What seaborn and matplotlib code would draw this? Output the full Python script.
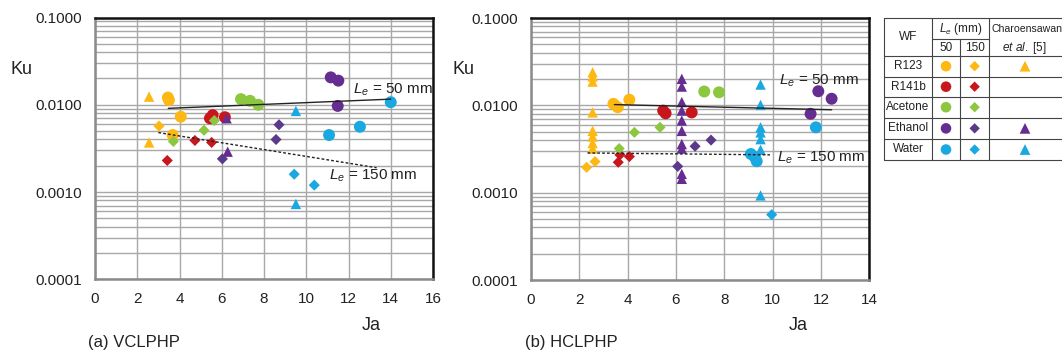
import numpy as np
import pandas as pd
import matplotlib
matplotlib.use("Agg")
import matplotlib.pyplot as plt
import seaborn as sns
from matplotlib.ticker import FixedLocator, FixedFormatter, NullFormatter

sns.set_theme(style="white")
plt.rcParams['font.family'] = ['Liberation Sans', 'DejaVu Sans']
plt.rcParams['mathtext.fontset'] = 'custom'
plt.rcParams['mathtext.rm'] = 'Liberation Sans'
plt.rcParams['mathtext.it'] = 'Liberation Sans:italic'

# ---------------- data: (a) VCLPHP ----------------
a_R123_50_x = [3.45, 3.50, 4.06, 3.68]
a_R123_50_y = [0.0121, 0.0113, 0.0073, 0.0045]
a_R123_150_x = [3.03]
a_R123_150_y = [0.0057]
a_R123_ref_x = [2.56, 2.56]
a_R123_ref_y = [0.0124, 0.0037]
a_R141b_50_x = [5.44, 5.57, 6.15]
a_R141b_50_y = [0.0070, 0.0076, 0.0072]
a_R141b_150_x = [3.42, 4.73, 5.52]
a_R141b_150_y = [0.0023, 0.0039, 0.0037]
a_Acetone_50_x = [6.91, 7.34, 7.73]
a_Acetone_50_y = [0.0116, 0.0111, 0.0100]
a_Acetone_150_x = [3.71, 5.16, 5.65]
a_Acetone_150_y = [0.0038, 0.0051, 0.0066]
a_Ethanol_50_x = [11.16, 11.52, 11.49]
a_Ethanol_50_y = [0.0206, 0.0189, 0.0097]
a_Ethanol_150_x = [6.03, 8.71, 8.57]
a_Ethanol_150_y = [0.0024, 0.0059, 0.0040]
a_Ethanol_ref_x = [6.23, 6.28]
a_Ethanol_ref_y = [0.0070, 0.0029]
a_Water_50_x = [14.0, 11.08, 12.54]
a_Water_50_y = [0.0107, 0.0045, 0.0056]
a_Water_150_x = [9.43, 10.38]
a_Water_150_y = [0.0016, 0.0012]
a_Water_ref_x = [9.51, 9.51]
a_Water_ref_y = [0.0085, 0.00073]
a_fit50_x = [3.47, 14.0]
a_fit50_y = [0.0091, 0.0116]
a_fit150_x = [3.0, 13.33]
a_fit150_y = [0.0048, 0.0019]

# ---------------- data: (b) HCLPHP ----------------
b_R123_50_x = [3.41, 3.59, 4.07]
b_R123_50_y = [0.0104, 0.0095, 0.0116]
b_R123_150_x = [2.30, 2.65]
b_R123_150_y = [0.00195, 0.00227]
b_R123_ref_x = [2.55, 2.55, 2.55, 2.55, 2.55, 2.55, 2.55, 2.55]
b_R123_ref_y = [0.0239, 0.0214, 0.0187, 0.0083, 0.0051, 0.0044, 0.0037, 0.0032]
b_R141b_50_x = [5.47, 5.57, 6.65]
b_R141b_50_y = [0.0087, 0.0081, 0.0083]
b_R141b_150_x = [3.61, 3.68, 4.07]
b_R141b_150_y = [0.00223, 0.00271, 0.00259]
b_Acetone_50_x = [7.17, 7.78]
b_Acetone_50_y = [0.0144, 0.0141]
b_Acetone_150_x = [3.65, 4.28, 5.34]
b_Acetone_150_y = [0.0032, 0.0049, 0.0056]
b_Ethanol_50_x = [11.89, 12.44, 11.57]
b_Ethanol_50_y = [0.0145, 0.0119, 0.0080]
b_Ethanol_150_x = [6.07, 6.79, 7.45]
b_Ethanol_150_y = [0.0020, 0.0034, 0.0040]
b_Ethanol_ref_x = [6.24] * 10
b_Ethanol_ref_y = [0.0201, 0.0164, 0.0109, 0.0087, 0.0067, 0.0051, 0.0036, 0.0032, 0.00164, 0.00144]
b_Water_50_x = [9.10, 9.27, 9.34, 11.79]
b_Water_50_y = [0.00277, 0.00254, 0.00229, 0.0056]
b_Water_150_x = [9.96]
b_Water_150_y = [0.00056]
b_Water_ref_x = [9.50] * 7
b_Water_ref_y = [0.0173, 0.0101, 0.0056, 0.0049, 0.0041, 0.0031, 0.00093]
b_fit50_x = [3.45, 12.44]
b_fit50_y = [0.0102, 0.0089]
b_fit150_x = [2.34, 9.89]
b_fit150_y = [0.00285, 0.00271]

fluids = ["R123", "R141b", "Acetone", "Ethanol", "Water"]
kinds = ["50", "150", "ref"]
yticks = [0.0001, 0.001, 0.01, 0.1]
ytick_labels = ["0.0001", "0.0010", "0.0100", "0.1000"]

colors = {
    "R123": "#FDB813", "R141b": "#C8161D", "Acetone": "#8DC63F",
    "Ethanol": "#662D91", "Water": "#1AA8E0",
}
diamond_colors = dict(colors, Ethanol="#5B3A8A")
marker_of = {"50": "o", "150": "D", "ref": "^"}
size_of = {"50": 74, "150": 32, "ref": 56}

def collect(prefix):
    rows = []
    g = globals()
    for f in fluids:
        for k in kinds:
            xn = f"{prefix}_{f}_{k}_x"
            if xn in g:
                for xv, yv in zip(g[xn], g[f"{prefix}_{f}_{k}_y"]):
                    rows.append(dict(fluid=f, kind=k, Ja=xv, Ku=yv))
    return pd.DataFrame(rows)

W, H = 1062, 354
fig = plt.figure(figsize=(W / 100, H / 100), dpi=100)
axA = fig.add_axes([95 / W, 1 - 279.3 / H, 338 / W, 261.8 / H])
axB = fig.add_axes([531 / W, 1 - 280 / H, 338.3 / W, 262 / H])

grid_c = "#A8A8A8"

def style(ax, xmax):
    ax.set_yscale("log")
    ax.set_ylim(1e-4, 1e-1)
    ax.set_xlim(0, xmax)
    ax.yaxis.set_major_locator(FixedLocator(yticks))
    ax.yaxis.set_major_formatter(FixedFormatter(ytick_labels))
    minors = [m * 10.0 ** e for e in (-4, -3, -2) for m in range(2, 10)]
    ax.yaxis.set_minor_locator(FixedLocator(minors))
    ax.yaxis.set_minor_formatter(NullFormatter())
    ax.set_xticks(list(range(0, xmax + 1, 2)))
    ax.set_xticks(list(range(1, xmax, 2)), minor=True)
    ax.grid(True, which="both", axis="y", color=grid_c, lw=1.0, zorder=0)
    ax.grid(True, which="major", axis="x", color=grid_c, lw=1.0, zorder=0)
    ax.set_axisbelow(True)
    ax.tick_params(axis="y", which="both", length=0, pad=9, labelsize=11, labelcolor="#222222")
    ax.tick_params(axis="x", which="major", length=0, pad=9, labelsize=11, labelcolor="#222222")
    ax.tick_params(axis="x", which="minor", direction="in", length=3, width=1, color="#888888")
    for s in ("left", "bottom"):
        ax.spines[s].set_color("#8A8A8A")
        ax.spines[s].set_linewidth(1.8)
    for s in ("top", "right"):
        ax.spines[s].set_color("#111111")
        ax.spines[s].set_linewidth(1.8)
    ax.set_xlabel("")
    ax.set_ylabel("")

def draw(ax, prefix, xmax):
    df = collect(prefix)
    for f in fluids:
        for k in kinds:
            sub = df[(df.fluid == f) & (df.kind == k)]
            if sub.empty:
                continue
            c = diamond_colors[f] if k == "150" else colors[f]
            sns.scatterplot(data=sub, x="Ja", y="Ku", ax=ax, color=c,
                            marker=marker_of[k], s=size_of[k], edgecolor="none",
                            linewidth=0, legend=False, zorder=3)
    g = globals()
    sns.lineplot(x=g[f"{prefix}_fit50_x"], y=g[f"{prefix}_fit50_y"], ax=ax,
                 color="#222222", lw=1.0, zorder=4)
    ax.plot(g[f"{prefix}_fit150_x"], g[f"{prefix}_fit150_y"], color="#222222",
            lw=1.0, ls=(0, (2.0, 1.5)), zorder=4)
    style(ax, xmax)

draw(axA, "a", 16)
draw(axB, "b", 14)

lab = dict(fontsize=11, color="#222222", va="center", ha="left", zorder=5)
axA.text(12.2, 0.0148, r"$L_e$ = 50 mm", **lab)
axA.text(11.1, 0.00153, r"$L_e$ = 150 mm", **lab)
axB.text(10.26, 0.0192, r"$L_e$ = 50 mm", **lab)
axB.text(10.18, 0.00252, r"$L_e$ = 150 mm", **lab)

fig.text(10 / W, 1 - 70 / H, "Ku", fontsize=13, ha="left", va="center", color="#222222")
fig.text(452 / W, 1 - 70 / H, "Ku", fontsize=13, ha="left", va="center", color="#222222")
fig.text(371 / W, 1 - 326 / H, "Ja", fontsize=13, ha="center", va="center", color="#222222")
fig.text(798 / W, 1 - 326 / H, "Ja", fontsize=13, ha="center", va="center", color="#222222")
fig.text(88 / W, 1 - 343 / H, "(a) VCLPHP", fontsize=12, ha="left", va="center", color="#222222")
fig.text(525 / W, 1 - 343 / H, "(b) HCLPHP", fontsize=12, ha="left", va="center", color="#222222")

# ---------------- legend table ----------------
tab = fig.add_axes([0, 0, 1, 1], facecolor="none")
tab.set_xlim(0, W)
tab.set_ylim(H, 0)
tab.axis("off")
lc = dict(color="#444444", lw=0.8)
x0, xc1, xc2, xc3, xr = 884.3, 931.7, 960.3, 989.0, 1070
row_y = [18.3, 55.7, 76.7, 96.7, 117.7, 139.0, 160.0]
for yy in row_y:
    tab.plot([x0, xr], [yy, yy], **lc)
tab.plot([xc1, xc3], [39.3, 39.3], **lc)
tab.plot([x0, x0], [18.3, 160], **lc)
tab.plot([xc1, xc1], [18.3, 160], **lc)
tab.plot([xc2, xc2], [39.3, 160], **lc)
tab.plot([xc3, xc3], [18.3, 160], **lc)
tk = dict(fontsize=8.5, color="#222222", va="center", ha="center")
tab.text((x0 + xc1) / 2, 37, "WF", **tk)
tab.text((xc1 + xc3) / 2, 29, r"$L_e$ (mm)", **tk)
tab.text((xc1 + xc2) / 2, 48, "50", **tk)
tab.text((xc2 + xc3) / 2, 48, "150", **tk)
tab.text(991, 29, "Charoensawan", fontsize=7.6, color="#222222", va="center", ha="left")
tab.text(1024, 48, r"$et\ al.$ [5]", **tk)
ref_rows = {"R123", "Ethanol", "Water"}
for i, f in enumerate(fluids):
    yc = (row_y[i + 1] + row_y[i + 2]) / 2
    tab.text((x0 + xc1) / 2, yc, f, **tk)
    tab.scatter([(xc1 + xc2) / 2], [yc], marker="o", s=58, color=colors[f], edgecolors="none")
    tab.scatter([(xc2 + xc3) / 2], [yc], marker="D", s=28, color=diamond_colors[f], edgecolors="none")
    if f in ref_rows:
        tab.scatter([1025], [yc], marker="^", s=60, color=colors[f], edgecolors="none")

fig.savefig("out.png", dpi=100)
